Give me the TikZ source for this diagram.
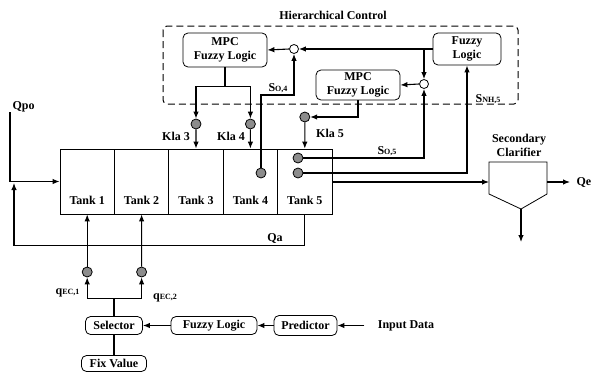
\documentclass[tikz,border=0pt]{standalone}
\usepackage{fontspec}
\setmainfont{Liberation Serif}
\usetikzlibrary{arrows.meta}
\newcommand\smalltxt[1]{{\fontsize{8}{8}\selectfont#1}}

\begin{document}
\begin{tikzpicture}[x=1pt,y=-1pt,line width=1.1pt,
  font=\bfseries\fontsize{12}{14}\selectfont,
  arr/.style={-{Latex[length=7pt,width=5.5pt]}},
  blk/.style={draw,rounded corners=5pt,line width=.8pt,align=center,inner sep=0pt},
  tank/.style={draw,line width=.8pt,minimum width=54.4pt,minimum height=65pt,inner sep=0pt},
  valve/.style={circle,draw,line width=.8pt,fill=black!45,minimum size=10pt,inner sep=0pt},
  sum/.style={circle,draw,line width=.8pt,fill=white,minimum size=9pt,inner sep=0pt},
  lbl/.style={inner sep=0pt}]
  \useasboundingbox (0,0) rectangle (593,372);
  % supervisory layer
  \node[lbl] (title) at (333,15) {Hierarchical Control};
  \draw[line width=1pt,dash pattern=on 7pt off 4pt,rounded corners=4pt]
    (163,26) rectangle (518,104);
  \node[blk,minimum width=84pt,minimum height=34pt] (mpc1) at (225,50) {MPC\\Fuzzy Logic};
  \node[blk,minimum width=68pt,minimum height=32pt] (fz) at (467,49) {Fuzzy\\Logic};
  \node[blk,minimum width=84pt,minimum height=30pt] (mpc2) at (358,85) {MPC\\Fuzzy Logic};
  \node[sum] (c1) at (294,49) {};
  \node[sum] (c2) at (424,84) {};
  % reactor
  \foreach \i in {1,...,5} {
    \node[tank] (t\i) at ({60+54.4*(\i-.5)},181.5) {};
    \node[lbl,above=9pt] (tl\i) at (t\i.south) {Tank \i};
  }
  \node[valve] (k3) at (196,124) {};
  \node[valve] (k4) at (250.4,124) {};
  \node[valve] (k5) at (304.8,117) {};
  \node[valve] (s4) at (261,173) {};
  \node[valve] (s5a) at (298,158) {};
  \node[valve] (s5b) at (298,173) {};
  \node[valve] (e1) at (87.2,272) {};
  \node[valve] (e2) at (141.6,272) {};
  \node[lbl] (kla3) at (176,136) {Kla 3};
  \node[lbl] (kla4) at (231,136) {Kla 4};
  \node[lbl] (kla5) at (330,133) {Kla 5};
  \node[lbl] (so4) at (278,88) {S\smalltxt{O,4}};
  \node[lbl] (so5) at (387,151) {S\smalltxt{O,5}};
  \node[lbl] (snh5) at (488,99) {S\smalltxt{NH,5}};
  % control loops
  \draw[arr] (fz.west) -- (c1.east);
  \draw[arr] (c2.north |- fz.west) -- (c2.north);
  \draw[arr] (c1.west) -- (mpc1.east);
  \draw[arr] (c2.west) -- (mpc2.east);
  \draw[arr] (mpc1.south) -- ++(0,19) -| (k3.north);
  \draw[arr] (mpc1.south) -- ++(0,19) -| (k4.north);
  \draw[arr] (mpc2.south) |- (k5.east);
  \foreach \i in {3,4,5} \draw[arr] (k\i) -- (t\i.north);
  \draw[arr] (s4.north) -- (s4.north |- 0,95) -| (c1.south);
  \draw[arr] (s5a.east) -| (c2.south);
  \draw[arr] (s5b.east) -| (fz.south);
  % clarifier
  \draw[line width=.8pt] (489,162) -- (547,162) -- (547,194) -- (521,209) -- (489,194) -- cycle;
  \coordinate (clin) at (489,182);
  \coordinate (clout) at (547,182);
  \coordinate (clbot) at (521,209);
  \coordinate (sludge) at (521,242);
  \node[lbl,align=center] (sec) at (519,145) {Secondary\\Clarifier};
  \node[lbl,anchor=west] (qe) at (576,182) {Qe};
  \draw[arr] (t5.east |- clin) -- (clin);
  \draw[arr] (clout) -- ([xshift=-6pt]qe.west);
  \draw[arr] (clbot) -- (sludge);
  % influent and recycle
  \node[lbl,anchor=west] (qpo) at (12,107) {Qpo};
  \coordinate (qpotop) at (10,112);
  \coordinate (qajoin) at (14,183);
  \draw[arr] (qpotop) |- (t1.west);
  \draw[arr] (t5.south) -- ++(0,31) -| (qajoin);
  \node[lbl] (qa) at (275,238) {Qa};
  % carbon dosage
  \node[blk,minimum width=57pt,minimum height=18pt] (sel) at (114,325.5) {Selector};
  \node[blk,minimum width=65pt,minimum height=16pt] (fix) at (114,363.5) {Fix Value};
  \node[blk,minimum width=86pt,minimum height=18pt] (fl) at (214,325.5) {Fuzzy Logic};
  \node[blk,minimum width=63pt,minimum height=20pt] (pr) at (305.5,325.5) {Predictor};
  \node[lbl] (in) at (406,325.5) {Input Data};
  \draw[arr] ([xshift=-13pt]in.west) -- (pr.east);
  \draw[arr] (pr.west) -- (fl.east);
  \draw[arr] (fl.west) -- (sel.east);
  \draw (sel.south) -- (fix.north);
  \draw[arr] (sel.north) -- ++(0,-18) -| (e1.south);
  \draw[arr] (sel.north) -- ++(0,-18) -| (e2.south);
  \foreach \i in {1,2} \draw[arr] (e\i) -- (t\i.south);
  \node[lbl,anchor=east] (qec1) at (80,293) {q\smalltxt{EC,1}};
  \node[lbl] (qec2) at (165,298) {q\smalltxt{EC,2}};
\end{tikzpicture}
\end{document}
